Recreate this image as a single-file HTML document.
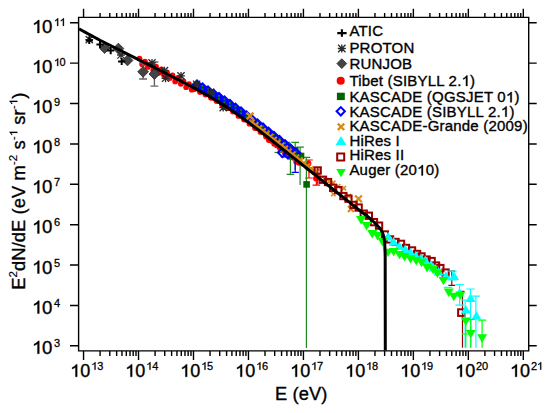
<!DOCTYPE html>
<html><head><meta charset="utf-8"><style>
body{margin:0;background:#fff;width:550px;height:413px;overflow:hidden}
svg{position:absolute;left:0;top:0}
text{font-family:"Liberation Sans",sans-serif;fill:#000;stroke:#000;stroke-width:0.35px}
.tl{font-size:18px;letter-spacing:0.8px}
.tly{font-size:18.6px;letter-spacing:0.3px}
.sp{font-size:11px;stroke-width:0.15px}
.at{font-size:18.3px;letter-spacing:0.1px}
.ss{font-size:11.5px;stroke-width:0.15px}
.lg{font-size:15px;letter-spacing:0.2px}
.h1{fill-opacity:0;stroke-opacity:0}
</style></head>
<body><svg width="550" height="413" viewBox="0 0 550 413">
<circle cx="139.5" cy="58.6" r="2.9" fill="#ff0000"/>
<circle cx="142.2" cy="64.2" r="2.9" fill="#ff0000"/>
<circle cx="145.0" cy="61.7" r="2.9" fill="#ff0000"/>
<circle cx="147.8" cy="66.9" r="2.9" fill="#ff0000"/>
<circle cx="150.5" cy="64.4" r="2.9" fill="#ff0000"/>
<circle cx="153.2" cy="69.9" r="2.9" fill="#ff0000"/>
<circle cx="156.0" cy="66.7" r="2.9" fill="#ff0000"/>
<circle cx="158.8" cy="72.8" r="2.9" fill="#ff0000"/>
<circle cx="161.5" cy="69.5" r="2.9" fill="#ff0000"/>
<circle cx="164.2" cy="75.5" r="2.9" fill="#ff0000"/>
<circle cx="167.0" cy="72.3" r="2.9" fill="#ff0000"/>
<circle cx="169.8" cy="78.1" r="2.9" fill="#ff0000"/>
<circle cx="172.5" cy="75.4" r="2.9" fill="#ff0000"/>
<circle cx="175.2" cy="81.4" r="2.9" fill="#ff0000"/>
<circle cx="178.0" cy="78.0" r="2.9" fill="#ff0000"/>
<circle cx="180.8" cy="83.8" r="2.9" fill="#ff0000"/>
<circle cx="183.5" cy="81.3" r="2.9" fill="#ff0000"/>
<circle cx="186.2" cy="87.2" r="2.9" fill="#ff0000"/>
<circle cx="189.0" cy="84.1" r="2.9" fill="#ff0000"/>
<circle cx="191.8" cy="89.7" r="2.9" fill="#ff0000"/>
<circle cx="194.5" cy="89.1" r="2.9" fill="#ff0000"/>
<circle cx="197.2" cy="87.9" r="2.9" fill="#ff0000"/>
<circle cx="200.0" cy="92.0" r="2.9" fill="#ff0000"/>
<circle cx="202.8" cy="91.1" r="2.9" fill="#ff0000"/>
<circle cx="205.5" cy="94.5" r="2.9" fill="#ff0000"/>
<circle cx="208.2" cy="94.1" r="2.9" fill="#ff0000"/>
<circle cx="211.0" cy="97.8" r="2.9" fill="#ff0000"/>
<circle cx="213.8" cy="97.8" r="2.9" fill="#ff0000"/>
<circle cx="216.5" cy="101.0" r="2.9" fill="#ff0000"/>
<circle cx="219.2" cy="101.0" r="2.9" fill="#ff0000"/>
<circle cx="222.0" cy="104.8" r="2.9" fill="#ff0000"/>
<circle cx="224.8" cy="104.3" r="2.9" fill="#ff0000"/>
<circle cx="227.5" cy="108.2" r="2.9" fill="#ff0000"/>
<circle cx="230.2" cy="107.7" r="2.9" fill="#ff0000"/>
<circle cx="233.0" cy="111.5" r="2.9" fill="#ff0000"/>
<circle cx="235.8" cy="111.6" r="2.9" fill="#ff0000"/>
<circle cx="238.5" cy="115.9" r="2.9" fill="#ff0000"/>
<circle cx="241.2" cy="115.6" r="2.9" fill="#ff0000"/>
<circle cx="244.0" cy="119.5" r="2.9" fill="#ff0000"/>
<circle cx="246.8" cy="119.8" r="2.9" fill="#ff0000"/>
<circle cx="249.5" cy="123.7" r="2.9" fill="#ff0000"/>
<circle cx="252.2" cy="123.7" r="2.9" fill="#ff0000"/>
<circle cx="255.0" cy="128.1" r="2.9" fill="#ff0000"/>
<circle cx="257.8" cy="128.2" r="2.9" fill="#ff0000"/>
<circle cx="260.5" cy="131.9" r="2.9" fill="#ff0000"/>
<circle cx="263.2" cy="132.3" r="2.9" fill="#ff0000"/>
<circle cx="266.0" cy="136.4" r="2.9" fill="#ff0000"/>
<circle cx="268.8" cy="140.0" r="2.9" fill="#ff0000"/>
<circle cx="271.5" cy="140.8" r="2.9" fill="#ff0000"/>
<circle cx="274.2" cy="143.8" r="2.9" fill="#ff0000"/>
<circle cx="277.0" cy="145.4" r="2.9" fill="#ff0000"/>
<circle cx="279.8" cy="148.1" r="2.9" fill="#ff0000"/>
<circle cx="282.5" cy="149.3" r="2.9" fill="#ff0000"/>
<circle cx="285.2" cy="153.0" r="2.9" fill="#ff0000"/>
<circle cx="288.0" cy="153.5" r="2.9" fill="#ff0000"/>
<circle cx="290.8" cy="157.1" r="2.9" fill="#ff0000"/>
<circle cx="293.5" cy="157.8" r="2.9" fill="#ff0000"/>
<circle cx="296.2" cy="161.7" r="2.9" fill="#ff0000"/>
<circle cx="299.0" cy="162.8" r="2.9" fill="#ff0000"/>
<path d="M309.0,160.0V178.0M305.2,160.0h7.6M305.2,178.0h7.6" stroke="#ff0000" stroke-width="1.2" fill="none"/>
<circle cx="308.5" cy="163.5" r="2.9" fill="#ff0000"/>
<circle cx="310.5" cy="170.0" r="2.9" fill="#ff0000"/>
<path d="M316.4,170.0V185.2M312.6,170.0h7.6M312.6,185.2h7.6" stroke="#ff0000" stroke-width="1.2" fill="none"/>
<circle cx="316.0" cy="178.5" r="2.9" fill="#ff0000"/>
<path d="M286.5,142.4V150.0M282.7,142.4h7.6" stroke="#1e8c1e" stroke-width="1.2" fill="none"/>
<path d="M290.4,157.4V174.3M286.6,174.3h7.6" stroke="#1e8c1e" stroke-width="1.2" fill="none"/>
<path d="M295.2,142.4V170.0M291.4,142.4h7.6" stroke="#1e8c1e" stroke-width="1.2" fill="none"/>
<path d="M300.1,147.2V185.0M296.3,147.2h7.6" stroke="#1e8c1e" stroke-width="1.2" fill="none"/>
<path d="M306.4,157.4V348.0M302.6,157.4h7.6" stroke="#1e8c1e" stroke-width="1.2" fill="none"/>
<path d="M278.3,152.5V152.5M274.5,152.5h7.6" stroke="#1e8c1e" stroke-width="1.2" fill="none"/>
<rect x="291.9" y="147.2" width="6.6" height="6.6" fill="#006400"/>
<rect x="297.7" y="152.7" width="6.6" height="6.6" fill="#006400"/>
<rect x="303.3" y="181.1" width="6.6" height="6.6" fill="#006400"/>
<path d="M197.0,78.9L202.8,84.7L197.0,90.5L191.2,84.7Z" fill="#0000ff"/>
<path d="M202.5,81.9L208.3,87.7L202.5,93.5L196.7,87.7Z" fill="#0000ff"/>
<path d="M208.0,85.0L213.8,90.8L208.0,96.6L202.2,90.8Z" fill="#0000ff"/>
<path d="M213.5,88.2L219.3,94.0L213.5,99.8L207.7,94.0Z" fill="#0000ff"/>
<path d="M219.0,91.5L224.8,97.3L219.0,103.1L213.2,97.3Z" fill="#0000ff"/>
<path d="M224.5,95.0L230.3,100.8L224.5,106.6L218.7,100.8Z" fill="#0000ff"/>
<path d="M230.0,98.6L235.8,104.4L230.0,110.2L224.2,104.4Z" fill="#0000ff"/>
<path d="M235.5,102.2L241.3,108.0L235.5,113.8L229.7,108.0Z" fill="#0000ff"/>
<path d="M241.0,106.0L246.8,111.8L241.0,117.6L235.2,111.8Z" fill="#0000ff"/>
<path d="M246.5,109.9L252.3,115.7L246.5,121.5L240.7,115.7Z" fill="#0000ff"/>
<path d="M252.0,113.9L257.8,119.7L252.0,125.5L246.2,119.7Z" fill="#0000ff"/>
<path d="M257.5,118.0L263.3,123.8L257.5,129.6L251.7,123.8Z" fill="#0000ff"/>
<path d="M263.0,122.1L268.8,127.9L263.0,133.7L257.2,127.9Z" fill="#0000ff"/>
<path d="M268.5,126.2L274.3,132.0L268.5,137.8L262.7,132.0Z" fill="#0000ff"/>
<path d="M274.0,130.4L279.8,136.2L274.0,142.0L268.2,136.2Z" fill="#0000ff"/>
<path d="M279.5,134.6L285.3,140.4L279.5,146.2L273.7,140.4Z" fill="#0000ff"/>
<path d="M285.0,138.8L290.8,144.6L285.0,150.4L279.2,144.6Z" fill="#0000ff"/>
<path d="M290.5,143.0L296.3,148.8L290.5,154.6L284.7,148.8Z" fill="#0000ff"/>
<path d="M296.0,147.3L301.8,153.1L296.0,158.9L290.2,153.1Z" fill="#0000ff"/>
<rect x="196.0" y="82.2" width="2" height="1.9" fill="#0a7a0a"/><rect x="196.0" y="85.2" width="2" height="1.9" fill="#0a7a0a"/>
<rect x="201.5" y="85.2" width="2" height="1.9" fill="#0a7a0a"/><rect x="201.5" y="88.2" width="2" height="1.9" fill="#0a7a0a"/>
<rect x="207.0" y="88.3" width="2" height="1.9" fill="#0a7a0a"/><rect x="207.0" y="91.3" width="2" height="1.9" fill="#0a7a0a"/>
<rect x="212.5" y="91.5" width="2" height="1.9" fill="#0a7a0a"/><rect x="212.5" y="94.5" width="2" height="1.9" fill="#0a7a0a"/>
<rect x="218.0" y="94.9" width="2" height="1.9" fill="#0a7a0a"/><rect x="218.0" y="97.9" width="2" height="1.9" fill="#0a7a0a"/>
<rect x="223.5" y="98.3" width="2" height="1.9" fill="#0a7a0a"/><rect x="223.5" y="101.3" width="2" height="1.9" fill="#0a7a0a"/>
<rect x="229.0" y="101.9" width="2" height="1.9" fill="#0a7a0a"/><rect x="229.0" y="104.9" width="2" height="1.9" fill="#0a7a0a"/>
<rect x="234.5" y="105.6" width="2" height="1.9" fill="#0a7a0a"/><rect x="234.5" y="108.6" width="2" height="1.9" fill="#0a7a0a"/>
<rect x="240.0" y="109.3" width="2" height="1.9" fill="#0a7a0a"/><rect x="240.0" y="112.3" width="2" height="1.9" fill="#0a7a0a"/>
<rect x="245.5" y="113.2" width="2" height="1.9" fill="#0a7a0a"/><rect x="245.5" y="116.2" width="2" height="1.9" fill="#0a7a0a"/>
<rect x="251.0" y="117.2" width="2" height="1.9" fill="#0a7a0a"/><rect x="251.0" y="120.2" width="2" height="1.9" fill="#0a7a0a"/>
<rect x="256.5" y="121.3" width="2" height="1.9" fill="#0a7a0a"/><rect x="256.5" y="124.3" width="2" height="1.9" fill="#0a7a0a"/>
<rect x="262.0" y="125.4" width="2" height="1.9" fill="#0a7a0a"/><rect x="262.0" y="128.4" width="2" height="1.9" fill="#0a7a0a"/>
<rect x="267.5" y="129.6" width="2" height="1.9" fill="#0a7a0a"/><rect x="267.5" y="132.6" width="2" height="1.9" fill="#0a7a0a"/>
<rect x="273.0" y="133.7" width="2" height="1.9" fill="#0a7a0a"/><rect x="273.0" y="136.7" width="2" height="1.9" fill="#0a7a0a"/>
<rect x="278.5" y="137.9" width="2" height="1.9" fill="#0a7a0a"/><rect x="278.5" y="140.9" width="2" height="1.9" fill="#0a7a0a"/>
<rect x="284.0" y="142.2" width="2" height="1.9" fill="#0a7a0a"/><rect x="284.0" y="145.2" width="2" height="1.9" fill="#0a7a0a"/>
<rect x="289.5" y="146.4" width="2" height="1.9" fill="#0a7a0a"/><rect x="289.5" y="149.4" width="2" height="1.9" fill="#0a7a0a"/>
<rect x="295.0" y="150.6" width="2" height="1.9" fill="#0a7a0a"/><rect x="295.0" y="153.6" width="2" height="1.9" fill="#0a7a0a"/>
<path d="M295.2,158.0V172.4M291.5,172.4h7.4" stroke="#0000ff" stroke-width="1.2" fill="none"/>
<path d="M285.5,156.9V156.9M280.7,156.9h9.6M280.7,156.9h9.6" stroke="#0000ff" stroke-width="1.4" fill="none"/>
<path d="M282.5,147.9L287.1,152.5L282.5,157.1L277.9,152.5Z" fill="none" stroke="#0000ff" stroke-width="2.0"/>
<path d="M288.0,149.4L292.6,154.0L288.0,158.6L283.4,154.0Z" fill="none" stroke="#0000ff" stroke-width="2.0"/>
<path d="M249.4,119.6l5.2,5.2M249.4,124.8l5.2,-5.2" stroke="#d98a10" stroke-width="2.0" fill="none"/>
<path d="M253.1,122.4l5.2,5.2M253.1,127.6l5.2,-5.2" stroke="#d98a10" stroke-width="2.0" fill="none"/>
<path d="M256.8,125.3l5.2,5.2M256.8,130.5l5.2,-5.2" stroke="#d98a10" stroke-width="2.0" fill="none"/>
<path d="M260.5,128.2l5.2,5.2M260.5,133.4l5.2,-5.2" stroke="#d98a10" stroke-width="2.0" fill="none"/>
<path d="M264.2,131.0l5.2,5.2M264.2,136.2l5.2,-5.2" stroke="#d98a10" stroke-width="2.0" fill="none"/>
<path d="M267.9,133.9l5.2,5.2M267.9,139.1l5.2,-5.2" stroke="#d98a10" stroke-width="2.0" fill="none"/>
<path d="M271.6,136.9l5.2,5.2M271.6,142.1l5.2,-5.2" stroke="#d98a10" stroke-width="2.0" fill="none"/>
<path d="M275.3,139.8l5.2,5.2M275.3,145.0l5.2,-5.2" stroke="#d98a10" stroke-width="2.0" fill="none"/>
<path d="M279.0,142.7l5.2,5.2M279.0,147.9l5.2,-5.2" stroke="#d98a10" stroke-width="2.0" fill="none"/>
<path d="M282.7,145.7l5.2,5.2M282.7,150.9l5.2,-5.2" stroke="#d98a10" stroke-width="2.0" fill="none"/>
<path d="M286.4,148.6l5.2,5.2M286.4,153.8l5.2,-5.2" stroke="#d98a10" stroke-width="2.0" fill="none"/>
<path d="M290.1,151.6l5.2,5.2M290.1,156.8l5.2,-5.2" stroke="#d98a10" stroke-width="2.0" fill="none"/>
<path d="M293.8,154.6l5.2,5.2M293.8,159.8l5.2,-5.2" stroke="#d98a10" stroke-width="2.0" fill="none"/>
<path d="M297.5,157.5l5.2,5.2M297.5,162.7l5.2,-5.2" stroke="#d98a10" stroke-width="2.0" fill="none"/>
<path d="M301.2,160.5l5.2,5.2M301.2,165.7l5.2,-5.2" stroke="#d98a10" stroke-width="2.0" fill="none"/>
<path d="M304.9,163.4l5.2,5.2M304.9,168.6l5.2,-5.2" stroke="#d98a10" stroke-width="2.0" fill="none"/>
<path d="M308.6,166.4l5.2,5.2M308.6,171.6l5.2,-5.2" stroke="#d98a10" stroke-width="2.0" fill="none"/>
<path d="M312.3,169.3l5.2,5.2M312.3,174.5l5.2,-5.2" stroke="#d98a10" stroke-width="2.0" fill="none"/>
<path d="M316.0,172.2l5.2,5.2M316.0,177.4l5.2,-5.2" stroke="#d98a10" stroke-width="2.0" fill="none"/>
<path d="M246.5,112.6l7.0,7.0M246.5,119.6l7.0,-7.0" stroke="#d98a10" stroke-width="2.2" fill="none"/>
<path d="M322.4,176.8l4.4,4.4M322.4,181.2l4.4,-4.4" stroke="#d98a10" stroke-width="1.6" fill="none"/>
<path d="M326.8,179.2l4.4,4.4M326.8,183.6l4.4,-4.4" stroke="#d98a10" stroke-width="1.6" fill="none"/>
<path d="M331.1,180.6l4.4,4.4M331.1,185.0l4.4,-4.4" stroke="#d98a10" stroke-width="1.6" fill="none"/>
<path d="M335.9,184.0l4.4,4.4M335.9,188.4l4.4,-4.4" stroke="#d98a10" stroke-width="1.6" fill="none"/>
<path d="M341.7,186.0l4.4,4.4M341.7,190.4l4.4,-4.4" stroke="#d98a10" stroke-width="1.6" fill="none"/>
<path d="M331.1,191.8l4.4,4.4M331.1,196.2l4.4,-4.4" stroke="#d98a10" stroke-width="1.6" fill="none"/>
<path d="M346.6,193.8l4.4,4.4M346.6,198.2l4.4,-4.4" stroke="#d98a10" stroke-width="1.6" fill="none"/>
<path d="M355.1,195.5l6.8,6.8M355.1,202.3l6.8,-6.8" stroke="#d98a10" stroke-width="2.2" fill="none"/>
<path d="M347.9,206.0l6.0,6.0M347.9,212.0l6.0,-6.0" stroke="#d98a10" stroke-width="2.0" fill="none"/>
<path d="M143.1,63.0V79.0M139.2,63.0h7.8M139.2,79.0h7.8" stroke="#666" stroke-width="1.4" fill="none"/>
<path d="M154.4,62.0V86.1M150.5,62.0h7.8M150.5,86.1h7.8" stroke="#666" stroke-width="1.4" fill="none"/>
<path d="M104.6,42.6L110.0,48.0L104.6,53.4L99.2,48.0Z" fill="#444444" stroke="#262626" stroke-width="0.8"/>
<path d="M118.4,43.2L123.8,48.6L118.4,54.0L113.0,48.6Z" fill="#444444" stroke="#262626" stroke-width="0.8"/>
<path d="M127.5,55.0L132.9,60.4L127.5,65.8L122.1,60.4Z" fill="#444444" stroke="#262626" stroke-width="0.8"/>
<path d="M143.1,66.4L148.5,71.8L143.1,77.2L137.7,71.8Z" fill="#444444" stroke="#262626" stroke-width="0.8"/>
<path d="M154.4,68.6L159.8,74.0L154.4,79.4L149.0,74.0Z" fill="#444444" stroke="#262626" stroke-width="0.8"/>
<path d="M85.4,39.6h7.8M89.3,35.7v7.8M85.7,36.0l7.2,7.2M85.7,43.2l7.2,-7.2" stroke="#2a2a2a" stroke-width="1.3" fill="none"/>
<path d="M117.1,55.0h7.8M121.0,51.1v7.8M117.4,51.4l7.2,7.2M117.4,58.6l7.2,-7.2" stroke="#2a2a2a" stroke-width="1.3" fill="none"/>
<path d="M148.1,62.8h7.8M152.0,58.9v7.8M148.4,59.2l7.2,7.2M148.4,66.4l7.2,-7.2" stroke="#2a2a2a" stroke-width="1.3" fill="none"/>
<path d="M160.6,70.6h7.8M164.5,66.7v7.8M160.9,67.0l7.2,7.2M160.9,74.2l7.2,-7.2" stroke="#2a2a2a" stroke-width="1.3" fill="none"/>
<path d="M161.6,78.3h7.8M165.5,74.4v7.8M161.9,74.7l7.2,7.2M161.9,81.9l7.2,-7.2" stroke="#2a2a2a" stroke-width="1.3" fill="none"/>
<path d="M177.1,75.9h7.8M181.0,72.0v7.8M177.4,72.3l7.2,7.2M177.4,79.5l7.2,-7.2" stroke="#2a2a2a" stroke-width="1.3" fill="none"/>
<path d="M192.7,84.2h7.8M196.6,80.3v7.8M193.0,80.6l7.2,7.2M193.0,87.8l7.2,-7.2" stroke="#2a2a2a" stroke-width="1.3" fill="none"/>
<path d="M206.8,92.4h7.8M210.7,88.5v7.8M207.1,88.8l7.2,7.2M207.1,96.0l7.2,-7.2" stroke="#2a2a2a" stroke-width="1.3" fill="none"/>
<path d="M219.3,107.6h7.8M223.2,103.7v7.8M219.6,104.0l7.2,7.2M219.6,111.2l7.2,-7.2" stroke="#2a2a2a" stroke-width="1.3" fill="none"/>
<path d="M85.7,40.4h7.2M89.3,36.8v7.2" stroke="#000" stroke-width="2.0" fill="none"/>
<path d="M96.4,44.5h7.2M100.0,40.9v7.2" stroke="#000" stroke-width="2.0" fill="none"/>
<path d="M107.1,50.6h7.2M110.7,47.0v7.2" stroke="#000" stroke-width="2.0" fill="none"/>
<path d="M118.1,61.5h7.2M121.7,57.9v7.2" stroke="#000" stroke-width="2.0" fill="none"/>
<path d="M317.8,167.3V184.4M314.0,167.3h7.6" stroke="#990000" stroke-width="1.2" fill="none"/>
<path d="M451.8,271.2V285.4M448.4,271.2h6.8M448.4,285.4h6.8" stroke="#990000" stroke-width="1.2" fill="none"/>
<path d="M462.5,291.4V347.8M460.5,291.4h4.0" stroke="#990000" stroke-width="1.2" fill="none"/>
<rect x="314.5" y="167.4" width="6.3" height="6.3" fill="none" stroke="#990000" stroke-width="2.0"/>
<rect x="319.8" y="176.6" width="6.3" height="6.3" fill="none" stroke="#990000" stroke-width="2.0"/>
<rect x="324.9" y="178.9" width="6.3" height="6.3" fill="none" stroke="#990000" stroke-width="2.0"/>
<rect x="330.0" y="184.7" width="6.3" height="6.3" fill="none" stroke="#990000" stroke-width="2.0"/>
<rect x="335.1" y="187.0" width="6.3" height="6.3" fill="none" stroke="#990000" stroke-width="2.0"/>
<rect x="340.2" y="192.9" width="6.3" height="6.3" fill="none" stroke="#990000" stroke-width="2.0"/>
<rect x="345.3" y="195.5" width="6.3" height="6.3" fill="none" stroke="#990000" stroke-width="2.0"/>
<rect x="350.4" y="201.8" width="6.3" height="6.3" fill="none" stroke="#990000" stroke-width="2.0"/>
<rect x="355.5" y="204.4" width="6.3" height="6.3" fill="none" stroke="#990000" stroke-width="2.0"/>
<rect x="360.6" y="210.5" width="6.3" height="6.3" fill="none" stroke="#990000" stroke-width="2.0"/>
<rect x="365.7" y="212.6" width="6.3" height="6.3" fill="none" stroke="#990000" stroke-width="2.0"/>
<rect x="370.8" y="219.0" width="6.3" height="6.3" fill="none" stroke="#990000" stroke-width="2.0"/>
<rect x="375.9" y="222.5" width="6.3" height="6.3" fill="none" stroke="#990000" stroke-width="2.0"/>
<rect x="381.7" y="231.3" width="6.3" height="6.3" fill="none" stroke="#990000" stroke-width="2.0"/>
<rect x="386.9" y="236.3" width="6.3" height="6.3" fill="none" stroke="#990000" stroke-width="2.0"/>
<rect x="392.4" y="238.8" width="6.3" height="6.3" fill="none" stroke="#990000" stroke-width="2.0"/>
<rect x="397.9" y="240.7" width="6.3" height="6.3" fill="none" stroke="#990000" stroke-width="2.0"/>
<rect x="402.9" y="244.8" width="6.3" height="6.3" fill="none" stroke="#990000" stroke-width="2.0"/>
<rect x="408.9" y="247.3" width="6.3" height="6.3" fill="none" stroke="#990000" stroke-width="2.0"/>
<rect x="413.9" y="250.8" width="6.3" height="6.3" fill="none" stroke="#990000" stroke-width="2.0"/>
<rect x="418.4" y="253.3" width="6.3" height="6.3" fill="none" stroke="#990000" stroke-width="2.0"/>
<rect x="423.4" y="256.4" width="6.3" height="6.3" fill="none" stroke="#990000" stroke-width="2.0"/>
<rect x="428.5" y="257.9" width="6.3" height="6.3" fill="none" stroke="#990000" stroke-width="2.0"/>
<rect x="432.9" y="262.4" width="6.3" height="6.3" fill="none" stroke="#990000" stroke-width="2.0"/>
<rect x="437.2" y="264.9" width="6.3" height="6.3" fill="none" stroke="#990000" stroke-width="2.0"/>
<rect x="442.4" y="269.4" width="6.3" height="6.3" fill="none" stroke="#990000" stroke-width="2.0"/>
<rect x="458.1" y="309.3" width="6.6" height="6.6" fill="none" stroke="#990000" stroke-width="2.0"/>
<path d="M448.0,287.4V287.4M443.8,287.4h8.4M443.8,287.4h8.4" stroke="#00ffff" stroke-width="1.2" fill="none"/>
<path d="M459.6,284.5V305.2M455.4,284.5h8.4M455.4,305.2h8.4" stroke="#00ffff" stroke-width="1.2" fill="none"/>
<path d="M465.1,300.0V347.8M460.9,300.0h8.4" stroke="#00ffff" stroke-width="1.2" fill="none"/>
<path d="M470.5,289.0V347.8M466.3,289.0h8.4" stroke="#00ffff" stroke-width="1.2" fill="none"/>
<path d="M475.9,296.1V347.8M471.7,296.1h8.4" stroke="#00ffff" stroke-width="1.2" fill="none"/>
<path d="M452.5,271.2V280.0M448.3,271.2h8.4M448.3,280.0h8.4" stroke="#00ffff" stroke-width="1.2" fill="none"/>
<path d="M388.2,231.8L393.2,240.4L383.2,240.4Z" fill="#00ffff"/>
<path d="M393.6,237.1L398.6,245.7L388.6,245.7Z" fill="#00ffff"/>
<path d="M399.4,241.5L404.4,250.1L394.4,250.1Z" fill="#00ffff"/>
<path d="M405.2,244.4L410.2,253.0L400.2,253.0Z" fill="#00ffff"/>
<path d="M410.5,247.8L415.5,256.4L405.5,256.4Z" fill="#00ffff"/>
<path d="M415.8,251.1L420.8,259.7L410.8,259.7Z" fill="#00ffff"/>
<path d="M421.0,253.5L426.0,262.1L416.0,262.1Z" fill="#00ffff"/>
<path d="M425.3,255.5L430.3,264.1L420.3,264.1Z" fill="#00ffff"/>
<path d="M431.0,260.0L436.0,268.6L426.0,268.6Z" fill="#00ffff"/>
<path d="M433.5,263.0L438.5,271.6L428.5,271.6Z" fill="#00ffff"/>
<path d="M438.6,267.0L443.6,275.6L433.6,275.6Z" fill="#00ffff"/>
<path d="M445.9,271.2L450.9,279.8L440.9,279.8Z" fill="#00ffff"/>
<path d="M454.1,271.5L459.1,280.1L449.1,280.1Z" fill="#00ffff"/>
<path d="M459.6,288.0L464.6,296.6L454.6,296.6Z" fill="#00ffff"/>
<path d="M465.8,305.0L470.8,313.6L460.8,313.6Z" fill="#00ffff"/>
<path d="M470.5,293.5L475.5,302.1L465.5,302.1Z" fill="#00ffff"/>
<path d="M476.4,311.0L481.4,319.6L471.4,319.6Z" fill="#00ffff"/>
<path d="M465.8,319.5V347.8M461.8,319.5h8.0" stroke="#00ff00" stroke-width="1.2" fill="none"/>
<path d="M470.8,319.5V347.8M466.8,319.5h8.0" stroke="#00ff00" stroke-width="1.2" fill="none"/>
<path d="M482.1,320.1V347.8M478.1,320.1h8.0" stroke="#00ff00" stroke-width="1.2" fill="none"/>
<path d="M465.8,334.0V334.0M462.0,334.0h7.6M462.0,334.0h7.6" stroke="#00ff00" stroke-width="1.2" fill="none"/>
<path d="M361.0,224.5L366.0,216.1L356.0,216.1Z" fill="#00ff00"/>
<path d="M366.6,230.5L371.6,222.1L361.6,222.1Z" fill="#00ff00"/>
<path d="M372.2,238.5L377.2,230.1L367.2,230.1Z" fill="#00ff00"/>
<path d="M377.5,240.5L382.5,232.1L372.5,232.1Z" fill="#00ff00"/>
<path d="M382.5,246.5L387.5,238.1L377.5,238.1Z" fill="#00ff00"/>
<path d="M387.9,257.1L392.9,248.7L382.9,248.7Z" fill="#00ff00"/>
<path d="M393.7,256.4L398.7,248.0L388.7,248.0Z" fill="#00ff00"/>
<path d="M399.5,259.3L404.5,250.9L394.5,250.9Z" fill="#00ff00"/>
<path d="M404.6,261.5L409.6,253.1L399.6,253.1Z" fill="#00ff00"/>
<path d="M410.5,263.6L415.5,255.2L405.5,255.2Z" fill="#00ff00"/>
<path d="M416.3,265.5L421.3,257.1L411.3,257.1Z" fill="#00ff00"/>
<path d="M421.5,267.2L426.5,258.8L416.5,258.8Z" fill="#00ff00"/>
<path d="M427.1,272.4L432.1,264.0L422.1,264.0Z" fill="#00ff00"/>
<path d="M433.2,274.2L438.2,265.8L428.2,265.8Z" fill="#00ff00"/>
<path d="M437.4,277.9L442.4,269.5L432.4,269.5Z" fill="#00ff00"/>
<path d="M443.5,285.3L448.5,276.9L438.5,276.9Z" fill="#00ff00"/>
<path d="M448.7,296.9L453.7,288.5L443.7,288.5Z" fill="#00ff00"/>
<path d="M453.8,301.2L458.8,292.8L448.8,292.8Z" fill="#00ff00"/>
<path d="M460.3,299.8L465.3,291.4L455.3,291.4Z" fill="#00ff00"/>
<path d="M465.8,325.8L470.8,317.4L460.8,317.4Z" fill="#00ff00"/>
<path d="M470.8,338.3L475.8,329.9L465.8,329.9Z" fill="#00ff00"/>
<path d="M482.1,342.7L487.1,334.3L477.1,334.3Z" fill="#00ff00"/>
<path d="M79.0,28.88 L82.0,30.5 L85.0,32.12 L88.0,33.75 L91.0,35.37 L94.0,36.99 L97.0,38.61 L100.0,40.23 L103.0,41.74 L106.0,43.24 L109.0,44.75 L112.0,46.26 L115.0,47.76 L118.0,49.27 L121.0,50.78 L124.0,52.29 L127.0,53.79 L130.0,55.3 L133.0,56.81 L136.0,58.32 L139.0,59.83 L142.0,61.34 L145.0,62.85 L148.0,64.36 L151.0,65.88 L154.0,67.39 L157.0,68.91 L160.0,70.42 L163.0,71.94 L166.0,73.47 L169.0,75.0 L172.0,76.53 L175.0,78.06 L178.0,79.6 L181.0,81.15 L184.0,82.71 L187.0,84.28 L190.0,85.86 L193.0,87.46 L196.0,89.07 L199.0,90.7 L202.0,92.35 L205.0,94.02 L208.0,95.73 L211.0,97.46 L214.0,99.23 L217.0,101.04 L220.0,102.89 L223.0,104.78 L226.0,106.71 L229.0,108.69 L232.0,110.7 L235.0,112.77 L238.0,114.87 L241.0,117.01 L244.0,119.18 L247.0,121.39 L250.0,123.62 L253.0,125.88 L256.0,128.17 L259.0,130.47 L262.0,132.8 L265.0,135.13 L268.0,137.48 L271.0,139.84 L274.0,142.21 L277.0,144.59 L280.0,146.97 L283.0,149.36 L286.0,151.75 L289.0,154.15 L292.0,156.55 L295.0,158.95 L298.0,161.35 L301.0,163.75 L304.0,166.13 L307.0,168.52 L310.0,170.9 L313.0,173.29 L316.0,175.67 L319.0,178.06 L322.0,180.44 L325.0,182.83 L328.0,185.22 L331.0,187.61 L334.0,190.0 L337.0,192.38 L340.0,194.77 L343.0,197.16 L346.0,199.55 L349.0,201.94 L352.0,204.33 L355.0,206.72 L358.0,209.11 L361.0,211.46 L364.0,213.75 L367.0,216.04 L370.0,218.33 L372.73,221.0 L374.41,222.5 L375.89,224.0 L377.29,225.5 L378.73,227.0 L380.08,228.5 L381.1,230.0 L381.92,231.5 L382.61,233.0 L383.14,234.5 L383.54,236.0 L383.89,237.5 L384.18,239.0 L384.4,240.5 L384.55,242.0 L384.67,243.5 L384.77,245.0 L384.86,246.5 L384.93,248.0 L384.98,249.5 L385.03,251.0 L385.07,252.5 L385.11,254.0 L385.15,255.5 L385.18,257.0 L385.19,258.5 L385.2,260.0 L385.19,261.5 L385.3,350.5" fill="none" stroke="#000" stroke-width="3" stroke-linejoin="round"/>
<path d="M78.6,17.4H528.7V350.9H78.6Z M83.55,350.9v9 M83.55,17.4v-8.6 M100.10,350.9v5 M100.10,17.4v-4.5 M109.78,350.9v5 M109.78,17.4v-4.5 M116.65,350.9v5 M116.65,17.4v-4.5 M121.97,350.9v5 M121.97,17.4v-4.5 M126.32,350.9v5 M126.32,17.4v-4.5 M130.01,350.9v5 M130.01,17.4v-4.5 M133.19,350.9v5 M133.19,17.4v-4.5 M136.00,350.9v5 M136.00,17.4v-4.5 M138.52,350.9v9 M138.52,17.4v-8.6 M155.07,350.9v5 M155.07,17.4v-4.5 M164.75,350.9v5 M164.75,17.4v-4.5 M171.62,350.9v5 M171.62,17.4v-4.5 M176.94,350.9v5 M176.94,17.4v-4.5 M181.29,350.9v5 M181.29,17.4v-4.5 M184.98,350.9v5 M184.98,17.4v-4.5 M188.16,350.9v5 M188.16,17.4v-4.5 M190.97,350.9v5 M190.97,17.4v-4.5 M193.49,350.9v9 M193.49,17.4v-8.6 M210.04,350.9v5 M210.04,17.4v-4.5 M219.72,350.9v5 M219.72,17.4v-4.5 M226.59,350.9v5 M226.59,17.4v-4.5 M231.91,350.9v5 M231.91,17.4v-4.5 M236.26,350.9v5 M236.26,17.4v-4.5 M239.95,350.9v5 M239.95,17.4v-4.5 M243.13,350.9v5 M243.13,17.4v-4.5 M245.94,350.9v5 M245.94,17.4v-4.5 M248.46,350.9v9 M248.46,17.4v-8.6 M265.01,350.9v5 M265.01,17.4v-4.5 M274.69,350.9v5 M274.69,17.4v-4.5 M281.56,350.9v5 M281.56,17.4v-4.5 M286.88,350.9v5 M286.88,17.4v-4.5 M291.23,350.9v5 M291.23,17.4v-4.5 M294.92,350.9v5 M294.92,17.4v-4.5 M298.10,350.9v5 M298.10,17.4v-4.5 M300.91,350.9v5 M300.91,17.4v-4.5 M303.43,350.9v9 M303.43,17.4v-8.6 M319.98,350.9v5 M319.98,17.4v-4.5 M329.66,350.9v5 M329.66,17.4v-4.5 M336.53,350.9v5 M336.53,17.4v-4.5 M341.85,350.9v5 M341.85,17.4v-4.5 M346.20,350.9v5 M346.20,17.4v-4.5 M349.89,350.9v5 M349.89,17.4v-4.5 M353.07,350.9v5 M353.07,17.4v-4.5 M355.88,350.9v5 M355.88,17.4v-4.5 M358.40,350.9v9 M358.40,17.4v-8.6 M374.95,350.9v5 M374.95,17.4v-4.5 M384.63,350.9v5 M384.63,17.4v-4.5 M391.50,350.9v5 M391.50,17.4v-4.5 M396.82,350.9v5 M396.82,17.4v-4.5 M401.17,350.9v5 M401.17,17.4v-4.5 M404.86,350.9v5 M404.86,17.4v-4.5 M408.04,350.9v5 M408.04,17.4v-4.5 M410.85,350.9v5 M410.85,17.4v-4.5 M413.37,350.9v9 M413.37,17.4v-8.6 M429.92,350.9v5 M429.92,17.4v-4.5 M439.60,350.9v5 M439.60,17.4v-4.5 M446.47,350.9v5 M446.47,17.4v-4.5 M451.79,350.9v5 M451.79,17.4v-4.5 M456.14,350.9v5 M456.14,17.4v-4.5 M459.83,350.9v5 M459.83,17.4v-4.5 M463.01,350.9v5 M463.01,17.4v-4.5 M465.82,350.9v5 M465.82,17.4v-4.5 M468.34,350.9v9 M468.34,17.4v-8.6 M484.89,350.9v5 M484.89,17.4v-4.5 M494.57,350.9v5 M494.57,17.4v-4.5 M501.44,350.9v5 M501.44,17.4v-4.5 M506.76,350.9v5 M506.76,17.4v-4.5 M511.11,350.9v5 M511.11,17.4v-4.5 M514.80,350.9v5 M514.80,17.4v-4.5 M517.98,350.9v5 M517.98,17.4v-4.5 M520.79,350.9v5 M520.79,17.4v-4.5 M523.31,350.9v9 M523.31,17.4v-8.6 M78.6,345.80h-8.6 M528.7,345.80h8 M78.6,305.43h-8.6 M528.7,305.43h8 M78.6,265.05h-8.6 M528.7,265.05h8 M78.6,224.68h-8.6 M528.7,224.68h8 M78.6,184.30h-8.6 M528.7,184.30h8 M78.6,143.93h-8.6 M528.7,143.93h8 M78.6,103.55h-8.6 M528.7,103.55h8 M78.6,63.17h-8.6 M528.7,63.17h8 M78.6,22.80h-8.6 M528.7,22.80h8" fill="none" stroke="#000" stroke-width="1.4"/>
<path transform="translate(70.15,376.80) scale(0.00879,-0.00879)" d="M800 0H605V1098Q540 1038 434 979Q329 920 230 888V1057Q396 1124 509 1221Q622 1318 669 1409H800Z" fill="#000" stroke="#000" stroke-width="39.8"/><text x="80.36" y="376.80" style="font-size:18px;stroke-width:0.35px">0</text><path transform="translate(91.25,369.70) scale(0.00537,-0.00537)" d="M800 0H605V1098Q540 1038 434 979Q329 920 230 888V1057Q396 1124 509 1221Q622 1318 669 1409H800Z" fill="#000" stroke="#000" stroke-width="52.1"/><text x="97.17" y="369.70" style="font-size:11px;stroke-width:0.28px">3</text>
<path transform="translate(125.12,376.80) scale(0.00879,-0.00879)" d="M800 0H605V1098Q540 1038 434 979Q329 920 230 888V1057Q396 1124 509 1221Q622 1318 669 1409H800Z" fill="#000" stroke="#000" stroke-width="39.8"/><text x="135.33" y="376.80" style="font-size:18px;stroke-width:0.35px">0</text><path transform="translate(146.22,369.70) scale(0.00537,-0.00537)" d="M800 0H605V1098Q540 1038 434 979Q329 920 230 888V1057Q396 1124 509 1221Q622 1318 669 1409H800Z" fill="#000" stroke="#000" stroke-width="52.1"/><text x="152.14" y="369.70" style="font-size:11px;stroke-width:0.28px">4</text>
<path transform="translate(180.09,376.80) scale(0.00879,-0.00879)" d="M800 0H605V1098Q540 1038 434 979Q329 920 230 888V1057Q396 1124 509 1221Q622 1318 669 1409H800Z" fill="#000" stroke="#000" stroke-width="39.8"/><text x="190.30" y="376.80" style="font-size:18px;stroke-width:0.35px">0</text><path transform="translate(201.19,369.70) scale(0.00537,-0.00537)" d="M800 0H605V1098Q540 1038 434 979Q329 920 230 888V1057Q396 1124 509 1221Q622 1318 669 1409H800Z" fill="#000" stroke="#000" stroke-width="52.1"/><text x="207.11" y="369.70" style="font-size:11px;stroke-width:0.28px">5</text>
<path transform="translate(235.06,376.80) scale(0.00879,-0.00879)" d="M800 0H605V1098Q540 1038 434 979Q329 920 230 888V1057Q396 1124 509 1221Q622 1318 669 1409H800Z" fill="#000" stroke="#000" stroke-width="39.8"/><text x="245.27" y="376.80" style="font-size:18px;stroke-width:0.35px">0</text><path transform="translate(256.16,369.70) scale(0.00537,-0.00537)" d="M800 0H605V1098Q540 1038 434 979Q329 920 230 888V1057Q396 1124 509 1221Q622 1318 669 1409H800Z" fill="#000" stroke="#000" stroke-width="52.1"/><text x="262.08" y="369.70" style="font-size:11px;stroke-width:0.28px">6</text>
<path transform="translate(290.03,376.80) scale(0.00879,-0.00879)" d="M800 0H605V1098Q540 1038 434 979Q329 920 230 888V1057Q396 1124 509 1221Q622 1318 669 1409H800Z" fill="#000" stroke="#000" stroke-width="39.8"/><text x="300.24" y="376.80" style="font-size:18px;stroke-width:0.35px">0</text><path transform="translate(311.13,369.70) scale(0.00537,-0.00537)" d="M800 0H605V1098Q540 1038 434 979Q329 920 230 888V1057Q396 1124 509 1221Q622 1318 669 1409H800Z" fill="#000" stroke="#000" stroke-width="52.1"/><text x="317.05" y="369.70" style="font-size:11px;stroke-width:0.28px">7</text>
<path transform="translate(345.00,376.80) scale(0.00879,-0.00879)" d="M800 0H605V1098Q540 1038 434 979Q329 920 230 888V1057Q396 1124 509 1221Q622 1318 669 1409H800Z" fill="#000" stroke="#000" stroke-width="39.8"/><text x="355.21" y="376.80" style="font-size:18px;stroke-width:0.35px">0</text><path transform="translate(366.10,369.70) scale(0.00537,-0.00537)" d="M800 0H605V1098Q540 1038 434 979Q329 920 230 888V1057Q396 1124 509 1221Q622 1318 669 1409H800Z" fill="#000" stroke="#000" stroke-width="52.1"/><text x="372.02" y="369.70" style="font-size:11px;stroke-width:0.28px">8</text>
<path transform="translate(399.97,376.80) scale(0.00879,-0.00879)" d="M800 0H605V1098Q540 1038 434 979Q329 920 230 888V1057Q396 1124 509 1221Q622 1318 669 1409H800Z" fill="#000" stroke="#000" stroke-width="39.8"/><text x="410.18" y="376.80" style="font-size:18px;stroke-width:0.35px">0</text><path transform="translate(421.07,369.70) scale(0.00537,-0.00537)" d="M800 0H605V1098Q540 1038 434 979Q329 920 230 888V1057Q396 1124 509 1221Q622 1318 669 1409H800Z" fill="#000" stroke="#000" stroke-width="52.1"/><text x="426.99" y="369.70" style="font-size:11px;stroke-width:0.28px">9</text>
<path transform="translate(454.94,376.80) scale(0.00879,-0.00879)" d="M800 0H605V1098Q540 1038 434 979Q329 920 230 888V1057Q396 1124 509 1221Q622 1318 669 1409H800Z" fill="#000" stroke="#000" stroke-width="39.8"/><text x="465.15" y="376.80" style="font-size:18px;stroke-width:0.35px">0</text><text x="476.04" y="369.70" style="font-size:11px;stroke-width:0.28px">2</text><text x="481.96" y="369.70" style="font-size:11px;stroke-width:0.28px">0</text>
<path transform="translate(509.91,376.80) scale(0.00879,-0.00879)" d="M800 0H605V1098Q540 1038 434 979Q329 920 230 888V1057Q396 1124 509 1221Q622 1318 669 1409H800Z" fill="#000" stroke="#000" stroke-width="39.8"/><text x="520.12" y="376.80" style="font-size:18px;stroke-width:0.35px">0</text><text x="531.01" y="369.70" style="font-size:11px;stroke-width:0.28px">2</text><path transform="translate(536.93,369.70) scale(0.00537,-0.00537)" d="M800 0H605V1098Q540 1038 434 979Q329 920 230 888V1057Q396 1124 509 1221Q622 1318 669 1409H800Z" fill="#000" stroke="#000" stroke-width="52.1"/>
<path transform="translate(32.00,353.70) scale(0.00908,-0.00908)" d="M800 0H605V1098Q540 1038 434 979Q329 920 230 888V1057Q396 1124 509 1221Q622 1318 669 1409H800Z" fill="#000" stroke="#000" stroke-width="38.5"/><text x="42.04" y="353.70" style="font-size:18.6px;stroke-width:0.35px">0</text><text x="53.90" y="346.70" style="font-size:11px;stroke-width:0.28px">3</text>
<path transform="translate(32.00,313.60) scale(0.00908,-0.00908)" d="M800 0H605V1098Q540 1038 434 979Q329 920 230 888V1057Q396 1124 509 1221Q622 1318 669 1409H800Z" fill="#000" stroke="#000" stroke-width="38.5"/><text x="42.04" y="313.60" style="font-size:18.6px;stroke-width:0.35px">0</text><text x="53.90" y="306.60" style="font-size:11px;stroke-width:0.28px">4</text>
<path transform="translate(32.00,273.50) scale(0.00908,-0.00908)" d="M800 0H605V1098Q540 1038 434 979Q329 920 230 888V1057Q396 1124 509 1221Q622 1318 669 1409H800Z" fill="#000" stroke="#000" stroke-width="38.5"/><text x="42.04" y="273.50" style="font-size:18.6px;stroke-width:0.35px">0</text><text x="53.90" y="266.50" style="font-size:11px;stroke-width:0.28px">5</text>
<path transform="translate(32.00,233.40) scale(0.00908,-0.00908)" d="M800 0H605V1098Q540 1038 434 979Q329 920 230 888V1057Q396 1124 509 1221Q622 1318 669 1409H800Z" fill="#000" stroke="#000" stroke-width="38.5"/><text x="42.04" y="233.40" style="font-size:18.6px;stroke-width:0.35px">0</text><text x="53.90" y="226.40" style="font-size:11px;stroke-width:0.28px">6</text>
<path transform="translate(32.00,193.30) scale(0.00908,-0.00908)" d="M800 0H605V1098Q540 1038 434 979Q329 920 230 888V1057Q396 1124 509 1221Q622 1318 669 1409H800Z" fill="#000" stroke="#000" stroke-width="38.5"/><text x="42.04" y="193.30" style="font-size:18.6px;stroke-width:0.35px">0</text><text x="53.90" y="186.30" style="font-size:11px;stroke-width:0.28px">7</text>
<path transform="translate(32.00,153.20) scale(0.00908,-0.00908)" d="M800 0H605V1098Q540 1038 434 979Q329 920 230 888V1057Q396 1124 509 1221Q622 1318 669 1409H800Z" fill="#000" stroke="#000" stroke-width="38.5"/><text x="42.04" y="153.20" style="font-size:18.6px;stroke-width:0.35px">0</text><text x="53.90" y="146.20" style="font-size:11px;stroke-width:0.28px">8</text>
<path transform="translate(32.00,113.10) scale(0.00908,-0.00908)" d="M800 0H605V1098Q540 1038 434 979Q329 920 230 888V1057Q396 1124 509 1221Q622 1318 669 1409H800Z" fill="#000" stroke="#000" stroke-width="38.5"/><text x="42.04" y="113.10" style="font-size:18.6px;stroke-width:0.35px">0</text><text x="53.90" y="106.10" style="font-size:11px;stroke-width:0.28px">9</text>
<path transform="translate(32.00,73.00) scale(0.00908,-0.00908)" d="M800 0H605V1098Q540 1038 434 979Q329 920 230 888V1057Q396 1124 509 1221Q622 1318 669 1409H800Z" fill="#000" stroke="#000" stroke-width="38.5"/><text x="42.04" y="73.00" style="font-size:18.6px;stroke-width:0.35px">0</text><path transform="translate(53.90,66.00) scale(0.00537,-0.00537)" d="M800 0H605V1098Q540 1038 434 979Q329 920 230 888V1057Q396 1124 509 1221Q622 1318 669 1409H800Z" fill="#000" stroke="#000" stroke-width="52.1"/><text x="59.62" y="66.00" style="font-size:11px;stroke-width:0.28px">0</text>
<path transform="translate(32.00,32.90) scale(0.00908,-0.00908)" d="M800 0H605V1098Q540 1038 434 979Q329 920 230 888V1057Q396 1124 509 1221Q622 1318 669 1409H800Z" fill="#000" stroke="#000" stroke-width="38.5"/><text x="42.04" y="32.90" style="font-size:18.6px;stroke-width:0.35px">0</text><path transform="translate(53.90,25.90) scale(0.00537,-0.00537)" d="M800 0H605V1098Q540 1038 434 979Q329 920 230 888V1057Q396 1124 509 1221Q622 1318 669 1409H800Z" fill="#000" stroke="#000" stroke-width="52.1"/><path transform="translate(59.62,25.90) scale(0.00537,-0.00537)" d="M800 0H605V1098Q540 1038 434 979Q329 920 230 888V1057Q396 1124 509 1221Q622 1318 669 1409H800Z" fill="#000" stroke="#000" stroke-width="52.1"/>
<text x="275.05" y="399.6" class="at">E (eV)</text>
<text transform="translate(24.9,289.7) rotate(-90)" class="at">E<tspan class="ss" dy="-7.5">2</tspan><tspan dy="7.5">dN/dE (eV m</tspan><tspan class="ss" dy="-7.5">-2</tspan><tspan dy="7.5"> s</tspan><tspan class="ss" dy="-7.5">-<tspan class="h1">1</tspan></tspan><tspan dy="7.5"> sr</tspan><tspan class="ss" dy="-7.5">-<tspan class="h1">1</tspan></tspan><tspan dy="7.5">)</tspan></text>
<text x="349.4" y="36.0" class="lg">ATIC</text>
<text x="349.4" y="53.0" class="lg">PROTON</text>
<text x="349.4" y="69.4" class="lg">RUNJOB</text>
<text x="349.4" y="85.9" class="lg">Tibet (SIBYLL 2.<tspan class="h1">1</tspan>)</text>
<text x="349.4" y="102.3" class="lg">KASCADE (QGSJET 0<tspan class="h1">1</tspan>)</text>
<text x="349.4" y="116.7" class="lg">KASCADE (SIBYLL 2.<tspan class="h1">1</tspan>)</text>
<text x="349.4" y="131.0" class="lg">KASCADE-Grande (2009)</text>
<text x="349.4" y="145.9" class="lg">HiRes I</text>
<text x="349.4" y="160.4" class="lg">HiRes II</text>
<text x="349.4" y="175.4" class="lg">Auger (20<tspan class="h1">1</tspan>0)</text>
<path d="M337.3,33.1h9.3M341.9,29.2v7.6" stroke="#000" stroke-width="2.1" fill="none"/>
<path d="M337.8,48.5h8.0M341.8,44.5v8.0M338.12,44.82l7.36,7.36M338.12,52.18l7.36,-7.36" stroke="#2a2a2a" stroke-width="1.3" fill="none"/>
<path d="M341.8,58.7L346.7,63.6L341.8,68.5L336.9,63.6Z" fill="#444" stroke="#262626" stroke-width="0.8"/>
<circle cx="340.7" cy="80.7" r="4.05" fill="#ff0000"/>
<rect x="336.9" y="92.7" width="7.9" height="7.4" fill="#006400"/>
<path d="M340.8,107.1L344.9,111.3L340.8,115.5L336.6,111.3Z" fill="none" stroke="#0000ff" stroke-width="2"/>
<path d="M337.8,123.6l6.4,6.4M337.8,130l6.4,-6.4" stroke="#d98a10" stroke-width="2.3" fill="none"/>
<path d="M341,136L346.3,145L335.7,145Z" fill="#00ffff"/>
<rect x="337.2" y="153.5" width="7" height="7" fill="none" stroke="#990000" stroke-width="2"/>
<path d="M336.2,169L345.8,169L341,177.3Z" fill="#00ff00"/>
<g transform="translate(24.9,289.7) rotate(-90)"><path transform="translate(153.34,-7.50) scale(0.00562,-0.00562)" d="M800 0H605V1098Q540 1038 434 979Q329 920 230 888V1057Q396 1124 509 1221Q622 1318 669 1409H800Z" fill="#000" stroke="#000" stroke-width="26.7"/></g>
<g transform="translate(24.9,289.7) rotate(-90)"><path transform="translate(184.39,-7.50) scale(0.00562,-0.00562)" d="M800 0H605V1098Q540 1038 434 979Q329 920 230 888V1057Q396 1124 509 1221Q622 1318 669 1409H800Z" fill="#000" stroke="#000" stroke-width="26.7"/></g>
<path transform="translate(461.54,85.90) scale(0.00732,-0.00732)" d="M800 0H605V1098Q540 1038 434 979Q329 920 230 888V1057Q396 1124 509 1221Q622 1318 669 1409H800Z" fill="#000" stroke="#000" stroke-width="47.8"/>
<path transform="translate(505.90,102.30) scale(0.00732,-0.00732)" d="M800 0H605V1098Q540 1038 434 979Q329 920 230 888V1057Q396 1124 509 1221Q622 1318 669 1409H800Z" fill="#000" stroke="#000" stroke-width="47.8"/>
<path transform="translate(500.85,116.70) scale(0.00732,-0.00732)" d="M800 0H605V1098Q540 1038 434 979Q329 920 230 888V1057Q396 1124 509 1221Q622 1318 669 1409H800Z" fill="#000" stroke="#000" stroke-width="47.8"/>
<path transform="translate(417.09,175.40) scale(0.00732,-0.00732)" d="M800 0H605V1098Q540 1038 434 979Q329 920 230 888V1057Q396 1124 509 1221Q622 1318 669 1409H800Z" fill="#000" stroke="#000" stroke-width="47.8"/>
</svg></body></html>
